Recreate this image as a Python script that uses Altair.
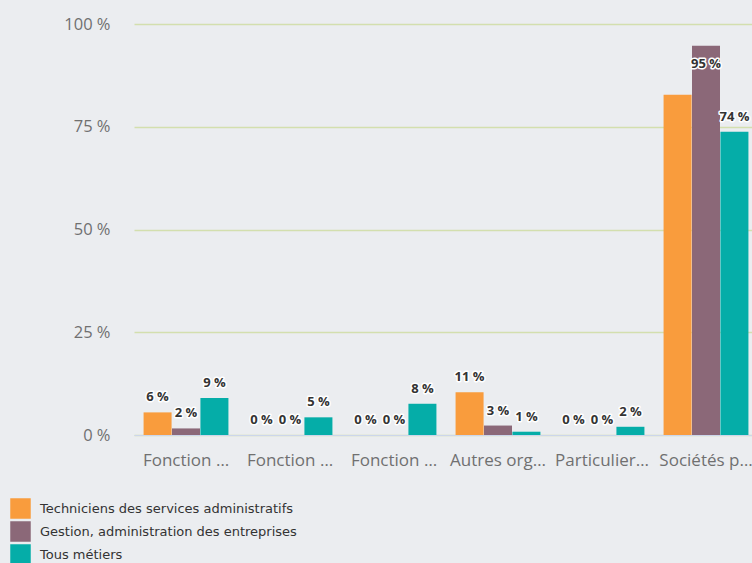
import altair as alt
import pandas as pd

categories = [
    "Fonction publique d'État",
    "Fonction publique territoriale",
    "Fonction publique hospitalière",
    "Autres organismes publics",
    "Particuliers employeurs",
    "Sociétés privées",
]
series = [
    "Techniciens des services administratifs",
    "Gestion, administration des entreprises",
    "Tous métiers",
]
techniciens = [5.5, 0, 0, 10.4, 0, 82.8]
gestion = [1.6, 0, 0, 2.3, 0, 94.7]
tous = [9.0, 4.3, 7.6, 0.8, 2.0, 73.8]
labels_tech = ["6 %", "0 %", "0 %", "11 %", "0 %", ""]
labels_gest = ["2 %", "0 %", "0 %", "3 %", "0 %", "95 %"]
labels_tous = ["9 %", "5 %", "8 %", "1 %", "2 %", "74 %"]
colors = ["#f99c3d", "#8b6878", "#05ada8"]

rows = []
for vals, labs, s in [(techniciens, labels_tech, series[0]),
                      (gestion, labels_gest, series[1]),
                      (tous, labels_tous, series[2])]:
    for c, v, l in zip(categories, vals, labs):
        rows.append({"cat": c, "serie": s, "value": v, "label": l})
df = pd.DataFrame(rows)

x = alt.X("cat:N", sort=categories, title=None,
          scale=alt.Scale(paddingInner=0.18, paddingOuter=0.09, range=[1, 625]),
          axis=alt.Axis(labelAngle=0, labelFont="Open Sans", labelFontSize=17,
                        labelColor="#707070", labelLimit=96, labelPadding=17,
                        ticks=False, domainColor="#ccd6eb", domainWidth=1))
xoff = alt.XOffset("serie:N", sort=series)
y = alt.Y("value:Q", title=None,
          scale=alt.Scale(domain=[0, 100], nice=False),
          axis=alt.Axis(values=[0, 25, 50, 75, 100], labelExpr="datum.value + ' %'",
                        labelFont="Open Sans", labelFontSize=16.5, labelColor="#707070",
                        labelPadding=23, ticks=False, domain=False,
                        gridColor="#d3dfae", gridWidth=1.5))

bars = alt.Chart(df).mark_bar(size=28).encode(
    x=x, xOffset=xoff, y=y,
    color=alt.Color("serie:N", sort=series, title=None,
                    scale=alt.Scale(domain=series, range=colors),
                    legend=alt.Legend(orient="none", legendX=-123, legendY=474,
                                      symbolType="square", symbolSize=420,
                                      symbolStrokeWidth=0, symbolOpacity=1,
                                      labelFont="DejaVu Sans", labelFontSize=13,
                                      labelColor="#333333", labelLimit=400,
                                      rowPadding=2, labelOffset=9,
                                      direction="vertical")),
)

base_text = alt.Chart(df).transform_calculate(
    pos="datum.value > 90 ? datum.value - 8 : datum.value"
)
halo = base_text.mark_text(baseline="bottom", dy=-8, font="Open Sans", fontSize=13,
                           fontWeight="bold", stroke="white", strokeWidth=3,
                           strokeJoin="round", fill="white").encode(
    x=alt.X("cat:N", sort=categories), xOffset=xoff,
    y=alt.Y("pos:Q"), text="label:N")
txt = base_text.mark_text(baseline="bottom", dy=-8, font="Open Sans", fontSize=13,
                          fontWeight="bold", color="#333333").encode(
    x=alt.X("cat:N", sort=categories), xOffset=xoff,
    y=alt.Y("pos:Q"), text="label:N")

chart = alt.layer(bars, halo, txt).properties(
    width=619, height=411,
    autosize=alt.AutoSizeParams(type="none"),
    padding={"left": 133, "top": 24, "right": 0, "bottom": 128},
    background="#ebedf0",
).configure_view(stroke=None)

chart.save("out.html", embed_options={"renderer": "svg", "actions": False})
